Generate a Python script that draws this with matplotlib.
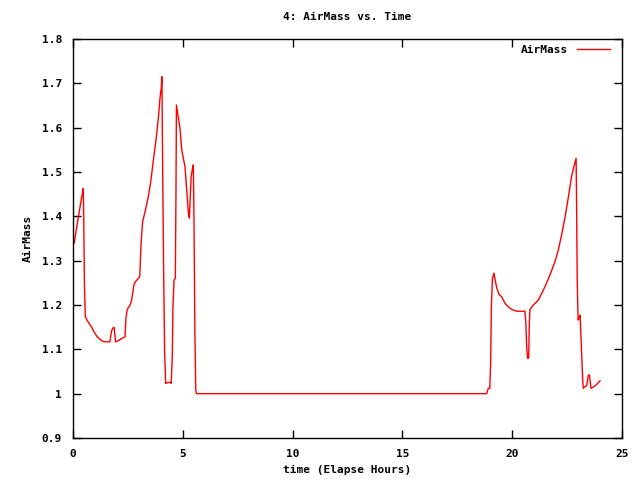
import matplotlib
matplotlib.use("Agg")
import matplotlib.pyplot as plt
from matplotlib.ticker import FuncFormatter

hours = [0.05, 0.15, 0.25, 0.35, 0.42, 0.47, 0.49, 0.52, 0.56, 0.65, 0.75, 0.85, 0.95, 1.08, 1.2, 1.35,
         1.49, 1.68, 1.75, 1.80, 1.87, 1.94, 2.05, 2.2, 2.37, 2.41, 2.47, 2.6, 2.67, 2.78, 2.88, 2.98,
         3.04, 3.10, 3.17, 3.28, 3.43, 3.54, 3.66, 3.78, 3.90, 3.96, 4.02, 4.05, 4.07, 4.12, 4.17, 4.22,
         4.32, 4.42, 4.47, 4.52, 4.55, 4.60, 4.66, 4.69, 4.71, 4.80, 4.87, 4.95, 5.10, 5.18, 5.25, 5.30,
         5.33, 5.38, 5.44, 5.48, 5.51, 5.55, 5.59, 5.62, 10.0, 15.0, 18.84, 18.91, 18.98, 19.02, 19.05,
         19.10, 19.17, 19.22, 19.30, 19.41, 19.52, 19.67, 19.82, 19.97, 20.2, 20.58, 20.62, 20.66, 20.70,
         20.75, 20.78, 20.81, 20.96, 21.19, 21.34, 21.49, 21.72, 21.95, 22.1, 22.25, 22.41, 22.55, 22.7,
         22.81, 22.91, 22.93, 22.96, 23.0, 23.05, 23.09, 23.12, 23.17, 23.21, 23.24, 23.32, 23.39, 23.47,
         23.52, 23.55, 23.59, 23.73, 23.85, 24.0]
airmass = [1.339, 1.37, 1.40, 1.43, 1.45, 1.463, 1.392, 1.249, 1.174, 1.165, 1.157, 1.150, 1.140, 1.130, 1.124, 1.118,
           1.117, 1.117, 1.140, 1.147, 1.150, 1.117, 1.119, 1.124, 1.128, 1.17, 1.19, 1.20, 1.211, 1.247, 1.255, 1.26,
           1.264, 1.339, 1.388, 1.41, 1.444, 1.478, 1.527, 1.572, 1.629, 1.666, 1.69, 1.715, 1.58, 1.309, 1.099, 1.023,
           1.025, 1.026, 1.023, 1.08, 1.193, 1.256, 1.26, 1.459, 1.651, 1.621, 1.60, 1.55, 1.512, 1.459, 1.41, 1.396,
           1.432, 1.489, 1.508, 1.516, 1.392, 1.14, 1.008, 1.0, 1.0, 1.0, 1.0, 1.012, 1.012, 1.072, 1.193,
           1.26, 1.272, 1.257, 1.238, 1.223, 1.219, 1.204, 1.196, 1.19, 1.186, 1.186, 1.159, 1.106, 1.08,
           1.08, 1.161, 1.19, 1.2, 1.211, 1.226, 1.241, 1.268, 1.298, 1.324, 1.358, 1.399, 1.441, 1.489,
           1.512, 1.531, 1.441, 1.256, 1.166, 1.17, 1.177, 1.144, 1.08, 1.031, 1.012, 1.016, 1.018, 1.042,
           1.042, 1.027, 1.012, 1.016, 1.021, 1.029]

xticks = [0, 5, 10, 15, 20, 25]
yticks = [0.9, 1.0, 1.1, 1.2, 1.3, 1.4, 1.5, 1.6, 1.7, 1.8]

font = dict(family="DejaVu Sans Mono", weight="bold", size=8)

fig = plt.figure(figsize=(6.4, 4.8), dpi=100)
ax = fig.add_axes([73/640, 42/480, (622-73)/640, (438-39)/480])
ax.plot(hours, airmass, color="#ff0000", lw=1, label="AirMass")
ax.set_xlim(0, 25)
ax.set_ylim(0.9, 1.8)
ax.set_xticks(xticks)
ax.set_yticks(yticks)
ax.yaxis.set_major_formatter(FuncFormatter(lambda v, p: f"{v:g}"))
ax.tick_params(direction="in", length=6, width=1, top=True, right=True, pad=8, labelsize=8)
for lab in ax.get_xticklabels() + ax.get_yticklabels():
    lab.set_fontfamily("DejaVu Sans Mono")
    lab.set_fontweight("bold")
for s in ax.spines.values():
    s.set_linewidth(1)
ax.set_title("4: AirMass vs. Time", pad=14, **font)
ax.set_xlabel("time (Elapse Hours)", labelpad=4, **font)
ax.set_ylabel("AirMass", labelpad=6, **font)
leg = ax.legend(loc="upper right", bbox_to_anchor=(0.988, 1.0), frameon=False,
                prop=dict(family="DejaVu Sans Mono", weight="bold", size=8),
                markerfirst=False, handlelength=3.0, borderaxespad=0.1)
fig.savefig("out.png", dpi=100)
